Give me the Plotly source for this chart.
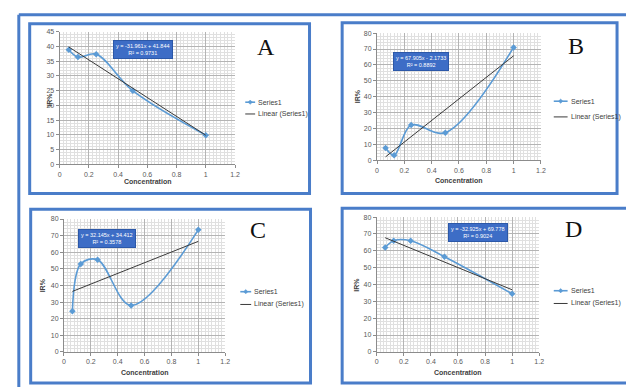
import plotly.graph_objects as go

W, H = 626, 387

# ---------------- data ----------------
conc = [0.0625, 0.125, 0.25, 0.5, 1.0]
ir_a = [38.9, 36.4, 37.4, 25.0, 9.9]
ir_b = [7.6, 3.1, 22.1, 17.3, 71.0]
ir_c = [24.5, 53.0, 55.5, 28.0, 73.5]
ir_d = [62.0, 66.0, 66.0, 56.5, 34.5]
slopes = [-31.961, 67.905, 32.145, -32.925]
intercepts = [41.844, -2.1733, 34.412, 69.778]
eq_labels = ["y = -31.961x + 41.844", "y = 67.905x - 2.1733",
             "y = 32.145x + 34.412", "y = -32.925x + 69.778"]
r2_labels = ["R² = 0.9731", "R² = 0.8892", "R² = 0.3578", "R² = 0.9024"]
panel_letters = ["A", "B", "C", "D"]
legend_names = ["Series1", "Linear (Series1)"]
y_max = [45, 80, 80, 80]
y_major = [5, 10, 10, 10]
x_ticks = [0, 0.2, 0.4, 0.6, 0.8, 1, 1.2]
series = [ir_a, ir_b, ir_c, ir_d]

# ---------------- layout geometry (pixels) ----------------
def px(x):
    return x / W

def py(y):
    return 1 - y / H

# plot areas: (left, right, top, bottom) in px
areas = [(58.3, 235.7, 28.3, 163.3),
         (379.3, 545.0, 29.7, 159.0),
         (62.7, 225.7, 219.0, 354.3),
         (379.0, 543.3, 217.0, 354.3)]
frames = [(28, 20, 311, 193), (344, 19, 622, 193), (29, 209, 312, 386), (344, 208, 640, 386)]
letter_pos = [(267, 44), (580, 43), (259, 230), (578, 229)]
eq_pos = [(143, 46), (424, 59), (106, 239), (481, 233)]
# legend: (line x0, line x1, y series, y linear)
legend_geo = [(246, 256, 100, 112), (558, 572, 99, 115), (241, 252, 293, 306), (558, 572, 292, 305)]
ytitle_x = [48, 359, 41, 359]
ytitle_y = [97, 94, 287, 286]
xtitle_y = [181, 180, 375, 375]

BLUE = "#4a7dc9"
SER = "#5b9bd5"

fig = go.Figure()
shapes = []
annotations = []

for i in range(4):
    sfx = "" if i == 0 else str(i + 1)
    xa, ya = "x" + sfx, "y" + sfx
    l, r, t, b = areas[i]
    fig.add_trace(go.Scatter(
        x=conc, y=series[i], mode="lines+markers", name=legend_names[0],
        line=dict(color=SER, width=1.6, shape="spline", smoothing=1.0),
        marker=dict(symbol="diamond", size=5, color=SER),
        xaxis=xa, yaxis=ya, showlegend=False))
    tx = [min(conc), max(conc)]
    ty = [slopes[i] * v + intercepts[i] for v in tx]
    fig.add_trace(go.Scatter(
        x=tx, y=ty, mode="lines", name=legend_names[1],
        line=dict(color="#3a3a3a", width=1),
        xaxis=xa, yaxis=ya, showlegend=False))

    axis_common = dict(
        showline=True, linecolor="#8c8c8c", linewidth=1,
        ticks="outside", ticklen=3, tickcolor="#8c8c8c",
        tickfont=dict(family="Liberation Sans", size=7, color="#595959"),
        showgrid=True, gridcolor="#b4b4b4", gridwidth=1, zeroline=False,
    )
    fig.layout["xaxis" + sfx] = dict(
        axis_common, domain=[px(l), px(r)], range=[0, 1.2],
        tickvals=x_ticks, anchor=ya,
        minor=dict(dtick=0.025, showgrid=True, gridcolor="#e0e0e0", gridwidth=1))
    fig.layout["yaxis" + sfx] = dict(
        axis_common, domain=[py(b), py(t)], range=[0, y_max[i]],
        dtick=y_major[i], anchor=xa,
        minor=dict(dtick=y_major[i] / 5, showgrid=True, gridcolor="#e0e0e0", gridwidth=1))

    # legend (drawn manually to match the compact Excel legend)
    gx0, gx1, gys, gyl = legend_geo[i]
    shapes.append(dict(type="line", xref="paper", yref="paper",
                       x0=px(gx0), x1=px(gx1), y0=py(gys), y1=py(gys),
                       line=dict(color=SER, width=1.6)))
    cx = (gx0 + gx1) / 2
    d = 2.2
    shapes.append(dict(type="path", xref="paper", yref="paper",
                       path=f"M {px(cx)},{py(gys - d)} L {px(cx + d)},{py(gys)} "
                            f"L {px(cx)},{py(gys + d)} L {px(cx - d)},{py(gys)} Z",
                       fillcolor=SER, line=dict(color=SER, width=0.5)))
    shapes.append(dict(type="line", xref="paper", yref="paper",
                       x0=px(gx0), x1=px(gx1), y0=py(gyl), y1=py(gyl),
                       line=dict(color="#3a3a3a", width=1)))
    for name, yy in zip(legend_names, [gys, gyl]):
        annotations.append(dict(
            xref="paper", yref="paper", x=px(gx1 + 1), y=py(yy),
            xanchor="left", yanchor="middle", text=name, showarrow=False,
            font=dict(family="Liberation Sans", size=7, color="#404040")))

    x0, y0, x1, y1 = frames[i]
    shapes.append(dict(type="rect", xref="paper", yref="paper",
                       x0=px(x0), x1=px(x1), y0=py(y1), y1=py(y0),
                       line=dict(color=BLUE, width=3)))

    ex, ey = eq_pos[i]
    annotations.append(dict(
        xref="paper", yref="paper", x=px(ex), y=py(ey),
        xanchor="center", yanchor="middle",
        text=eq_labels[i] + "<br>" + r2_labels[i], showarrow=False,
        align="center", bgcolor="#3d6dc6", bordercolor="#2c58a8", borderwidth=1,
        borderpad=2, font=dict(family="Liberation Sans", size=5.5, color="white")))

    lx2, ly2 = letter_pos[i]
    annotations.append(dict(
        xref="paper", yref="paper", x=px(lx2), y=py(ly2),
        xanchor="center", yanchor="middle",
        text=panel_letters[i], showarrow=False,
        font=dict(family="Liberation Serif", size=24, color="#111111")))

    annotations.append(dict(
        xref="paper", yref="paper", x=px(ytitle_x[i]), y=py(ytitle_y[i]),
        xanchor="center", yanchor="middle",
        text="<b>IR%</b>", showarrow=False, textangle=-90,
        font=dict(family="Liberation Sans", size=7, color="#404040")))
    annotations.append(dict(
        xref="paper", yref="paper", x=px((l + r) / 2), y=py(xtitle_y[i]),
        xanchor="center", yanchor="middle",
        text="<b>Concentration</b>", showarrow=False,
        font=dict(family="Liberation Sans", size=7, color="#404040")))

# outer frame lines
shapes.append(dict(type="line", xref="paper", yref="paper",
                   x0=px(17), x1=px(640), y0=py(11), y1=py(11),
                   line=dict(color=BLUE, width=3)))
shapes.append(dict(type="line", xref="paper", yref="paper",
                   x0=px(17), x1=px(17), y0=py(11), y1=py(400),
                   line=dict(color=BLUE, width=3)))

fig.update_layout(
    width=W, height=H, margin=dict(l=0, r=0, t=0, b=0),
    paper_bgcolor="white", plot_bgcolor="white", showlegend=False,
    shapes=shapes, annotations=annotations)

fig.write_html("out.html", config={"displayModeBar": False},
               post_script="document.body.style.margin='0';document.body.style.overflow='hidden';")
